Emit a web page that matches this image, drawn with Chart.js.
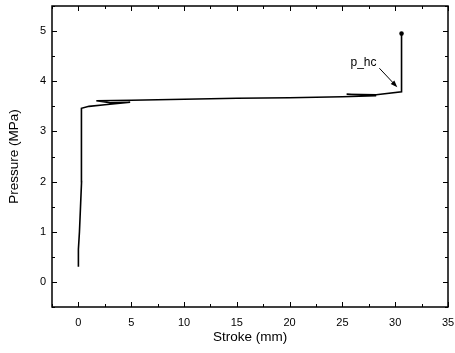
<!DOCTYPE html>
<html>
<head>
<meta charset="utf-8">
<script src="https://cdn.jsdelivr.net/npm/chart.js@4/dist/chart.umd.min.js"></script>
<style>
  html, body { margin: 0; padding: 0; background: #fff; }
  #wrap { width: 455px; height: 353px; }
</style>
</head>
<body>
<div id="wrap"><canvas id="myChart"></canvas></div>
<script>
// stroke (mm) vs pressure (MPa)
const stroke   = [0.0, 0.0, 0.1, 0.2, 0.3, 0.3, 0.3, 0.25, 0.3, 1.0, 2.5, 4.9, 3.0, 1.7, 5, 10, 15, 20, 25, 28.2, 25.4, 28.2, 30.6, 30.6, 30.6];
const pressure = [0.30, 0.65, 1.0, 1.5, 2.0, 2.5, 3.0, 3.4, 3.46, 3.5, 3.53, 3.58, 3.57, 3.61, 3.62, 3.64, 3.66, 3.67, 3.69, 3.71, 3.74, 3.73, 3.79, 4.3, 4.95];

const xTicks = [0, 5, 10, 15, 20, 25, 30, 35];
const yTicks = [0, 1, 2, 3, 4, 5];

// annotation "p_hc" with arrow, in data units
const noteText = 'p_hc';
const notePos = [27.0, 4.37];
const arrowFrom = [28.5, 4.26];
const arrowTo = [30.2, 3.88];

const ctx = document.getElementById('myChart');

// frame + inside ticks on all four sides, and the label with its arrow
const frame = {
  id: 'frame',
  afterDraw(chart) {
    const c = chart.ctx;
    const a = chart.chartArea;
    const xs = chart.scales.x;
    const ys = chart.scales.y;
    c.save();
    c.strokeStyle = '#000';
    c.lineWidth = 1.5;
    c.strokeRect(a.left, a.top, a.right - a.left, a.bottom - a.top);
    c.lineWidth = 1;
    c.beginPath();
    for (let v = -2.5; v <= 35; v += 2.5) {
      const px = Math.round(xs.getPixelForValue(v)) + 0.5;
      const len = v % 5 === 0 ? 5 : 3;
      c.moveTo(px, a.bottom); c.lineTo(px, a.bottom - len);
      c.moveTo(px, a.top); c.lineTo(px, a.top + len);
    }
    for (let v = -0.5; v <= 5.5; v += 0.5) {
      const py = Math.round(ys.getPixelForValue(v)) + 0.5;
      const len = Number.isInteger(v) ? 5 : 3;
      c.moveTo(a.left, py); c.lineTo(a.left + len, py);
      c.moveTo(a.right, py); c.lineTo(a.right - len, py);
    }
    c.stroke();

    c.fillStyle = '#000';
    c.font = '12px "Liberation Sans", Arial, sans-serif';
    c.textAlign = 'center';
    c.textBaseline = 'middle';
    c.fillText(noteText, xs.getPixelForValue(notePos[0]), ys.getPixelForValue(notePos[1]));

    const x1 = xs.getPixelForValue(arrowFrom[0]), y1 = ys.getPixelForValue(arrowFrom[1]);
    const x2 = xs.getPixelForValue(arrowTo[0]), y2 = ys.getPixelForValue(arrowTo[1]);
    const ang = Math.atan2(y2 - y1, x2 - x1);
    c.beginPath();
    c.moveTo(x1, y1); c.lineTo(x2 - 5 * Math.cos(ang), y2 - 5 * Math.sin(ang));
    c.stroke();
    c.beginPath();
    c.moveTo(x2, y2);
    c.lineTo(x2 - 7 * Math.cos(ang) + 2.5 * Math.sin(ang), y2 - 7 * Math.sin(ang) - 2.5 * Math.cos(ang));
    c.lineTo(x2 - 7 * Math.cos(ang) - 2.5 * Math.sin(ang), y2 - 7 * Math.sin(ang) + 2.5 * Math.cos(ang));
    c.closePath();
    c.fill();
    c.restore();
  }
};

Chart.defaults.font.family = '"Liberation Sans", Arial, sans-serif';
Chart.defaults.color = '#000';

const myChart = new Chart(ctx, {
  type: 'scatter',
  data: {
    datasets: [{
      label: 'p',
      data: stroke.map((s, i) => ({ x: s, y: pressure[i] })),
      showLine: true,
      borderColor: '#000',
      backgroundColor: '#000',
      borderWidth: 1.6,
      pointRadius: (c) => c.dataIndex === stroke.length - 1 ? 1.5 : 0,
      tension: 0
    }]
  },
  options: {
    responsive: true,
    maintainAspectRatio: false,
    animation: false,
    layout: { padding: { top: 6, right: 7, left: 0, bottom: 0 } },
    plugins: {
      legend: { display: false },
      tooltip: { enabled: false }
    },
    scales: {
      x: {
        type: 'linear',
        min: -2.5,
        max: 35,
        afterBuildTicks: (s) => { s.ticks = xTicks.map(v => ({ value: v })); },
        afterFit: (s) => { s.height = 46; s.paddingLeft = 0; s.paddingRight = 0; },
        grid: { display: false, drawTicks: false },
        border: { display: false },
        ticks: { font: { size: 11 }, padding: 9, maxRotation: 0, autoSkip: false },
        title: { display: true, text: 'Stroke (mm)', font: { size: 13.5 }, padding: { top: 0, bottom: 8 } }
      },
      y: {
        type: 'linear',
        min: -0.5,
        max: 5.5,
        afterBuildTicks: (s) => { s.ticks = yTicks.map(v => ({ value: v })); },
        afterFit: (s) => { s.width = 52; s.paddingTop = 0; s.paddingBottom = 0; },
        grid: { display: false, drawTicks: false },
        border: { display: false },
        ticks: { font: { size: 11 }, padding: 6 },
        title: { display: true, text: 'Pressure (MPa)', font: { size: 13.5 }, padding: { top: 6, bottom: 0 } }
      }
    }
  },
  plugins: [frame]
});
</script>
</body>
</html>
